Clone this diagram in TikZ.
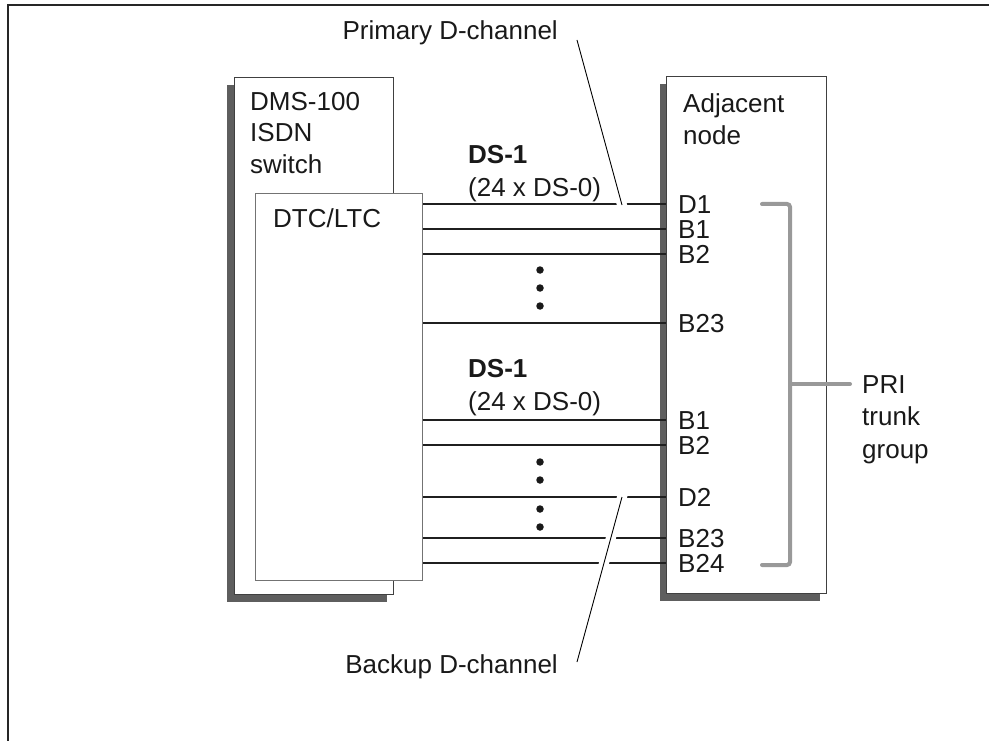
\documentclass[tikz,border=0pt]{standalone}
\usepackage{fontspec}
\setmainfont{Liberation Sans}
\usetikzlibrary{positioning,shadows}
\newcommand{\lblfont}{\fontsize{26}{31.5}\selectfont}
\tikzset{
  unit/.style  ={draw=black!75, line width=1.2pt, fill=white, inner sep=0pt},
  shelf/.style ={unit, drop shadow={shadow xshift=-7pt, shadow yshift=-7pt,
                 fill=black!63, opacity=1}},
  card/.style  ={draw=black!55, line width=1.2pt, fill=white, inner sep=0pt},
  txt/.style   ={font=\lblfont, inner sep=0pt, align=left, text=black!90},
  tag/.style   ={txt, text height=18.6pt, text depth=0pt, anchor=west},
  chan/.style  ={line width=2.6pt, draw=black!88},
  leader/.style={line width=0.9pt,
                 preaction={draw=white, line width=10pt, line cap=rect}},
  dot/.style   ={circle, fill=black!90, inner sep=0pt, minimum size=7.5pt},
  brace/.style ={line width=4pt, draw=black!40, line cap=round, rounded corners=3pt},
  frame/.style ={line width=2pt, draw=black!85},
}

\begin{document}
\begin{tikzpicture}[x=1pt, y=-1pt]
  \useasboundingbox (0,0) rectangle (989,741);
  \draw[frame] (8,741) -- (8,5) -- (989,5);

  % ---- the switch and the far end ------------------------------------
  \node[shelf, anchor=north west, minimum width=159.5pt, minimum height=517pt]
        (switch) at (233.5,77) {};
  \node[shelf, anchor=north west, minimum width=160pt, minimum height=517pt]
        (adj) at (666,76) {};
  \node[card, anchor=north west, minimum width=167pt, minimum height=387pt]
        (dtc) at (255,193) {};

  \node[txt, anchor=north west] (swlbl) at (250,92)  {DMS-100\\ISDN\\switch};
  \node[txt, anchor=north west] (adjlbl) at (683,93.5) {Adjacent\\node};
  \node[tag] (dtclbl) at (273,218) {DTC/LTC};

  % ---- the two DS-1 links --------------------------------------------
  \node[txt, anchor=north west] (dsa) at (468,145.5) {\textbf{DS-1}\\[1.5pt](24 x DS-0)};
  \node[txt, anchor=north west] (dsb) at (468,359)   {\textbf{DS-1}\\[1.5pt](24 x DS-0)};

  \foreach \y/\lab in {204/D1, 229/B1, 254/B2, 323/B23,
                       420/B1, 445/B2, 497/D2, 538/B23, 563/B24} {
    \path (0,\y) coordinate (lv);
    \draw[chan] (dtc.east |- lv) -- (adj.west |- lv);
    \node[tag] at (678,\y) {\lab};
  }
  \foreach \y in {270,288,306,462,480,509,527}
    \node[dot] at (540,\y) {};

  % ---- D-channel call-outs -------------------------------------------
  \node[txt, anchor=base east] (prim) at (558,40)  {Primary D-channel};
  \node[txt, anchor=base east] (bkup) at (558,673) {Backup D-channel};
  \coordinate (d1end) at (622,205);
  \coordinate (d2end) at (622,497);
  \draw[leader] ([xshift=19pt]prim.base east) -- (d1end);
  \draw[leader] ([xshift=19pt, yshift=11pt]bkup.base east) -- (d2end);

  % ---- trunk group ---------------------------------------------------
  \draw[brace] (762,204) -- (790,204) -- (790,565) -- (762,565);
  \coordinate (stem) at (790,384);
  \draw[brace] (stem) -- ++(60,0);
  \node[txt, anchor=north west] (pri) at (862,375) {PRI\\[1pt]trunk\\[1pt]group};
\end{tikzpicture}
\end{document}
